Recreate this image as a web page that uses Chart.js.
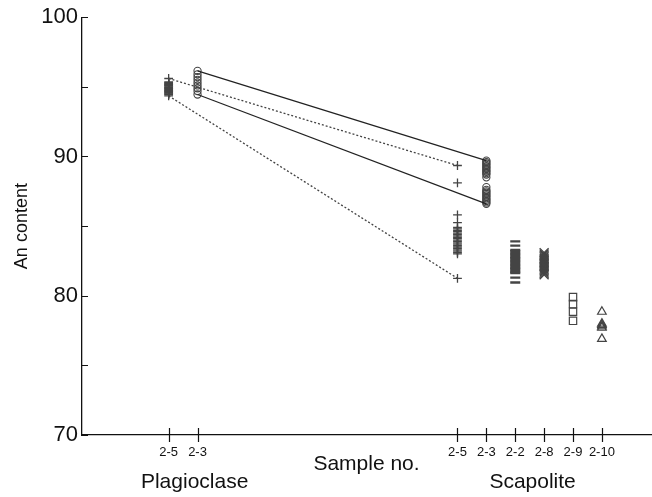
<!DOCTYPE html>
<html><head><meta charset="utf-8">
<script src="https://cdn.jsdelivr.net/npm/chart.js@4"></script>
<style>html,body{margin:0;padding:0;background:#fff}#wrap{width:652px;height:497px}</style>
</head><body><div id="wrap"><canvas id="c" width="652" height="497"></canvas></div>
<script>
// ---- data ----
const sampleLabels = ['2-5','2-3','2-5','2-3','2-2','2-8','2-9','2-10'];
const samplePos    = [3, 4, 13, 14, 15, 16, 17, 18];
const groupLabels  = ['Plagioclase','Scapolite'];
const groupPos     = [3.9, 15.6];
const yTickLabels  = [70, 80, 90, 100];

const plag25 = [95.6,95.35,95.3,95.25,95.2,95.15,95.1,95.05,95.0,94.95,94.9,94.85,94.8,94.75,94.7,94.65,94.6,94.55,94.5,94.45,94.35];
const plag23 = [96.15,95.9,95.7,95.5,95.3,95.1,94.9,94.7,94.45];
const scap25 = [89.35,88.1,85.8,85.25,84.9,84.8,84.7,84.6,84.5,84.4,84.3,84.2,84.1,84.0,83.9,83.8,83.7,83.6,83.5,83.4,83.3,83.2,83.1,83.0,81.25];
const scap23 = [89.7,89.6,89.5,89.4,89.3,89.2,89.1,89.0,88.9,88.8,88.7,88.5,87.8,87.6,87.5,87.4,87.3,87.2,87.1,87.0,86.9,86.8,86.7,86.6];
const scap22 = [83.9,83.6,83.3,83.2,83.1,83.0,82.9,82.8,82.7,82.6,82.5,82.4,82.3,82.2,82.1,82.0,81.9,81.8,81.7,81.63,81.3,80.95];
const scap28 = [83.1,83.0,82.9,82.8,82.7,82.6,82.5,82.4,82.3,82.2,82.1,82.0,81.9,81.8,81.7,81.6,81.5];
const scap29 = [79.9,79.4,78.85,78.2];
const scap210 = [78.85,78.0,77.9,77.8,77.7,76.9];

// ---- build ----
const FONT = '"Liberation Sans", Arial, Helvetica, sans-serif';
Chart.defaults.font.family = FONT;
Chart.defaults.color = '#111';
const MK = '#444';
const pts = (arr, i) => arr.map(v => ({x: samplePos[i], y: v}));
const mmax = a => Math.max(...a), mmin = a => Math.min(...a);

function markerSet(arr, i, style, r, bw) {
  return {data: pts(arr, i), pointStyle: style, pointRadius: r, pointBorderWidth: bw,
    borderColor: MK, pointBorderColor: MK, pointBackgroundColor: 'rgba(0,0,0,0)', showLine: false};
}
function lineSet(x0, y0, x1, y1, dashed) {
  return {data: [{x: x0, y: y0}, {x: x1, y: y1}], showLine: true, pointRadius: 0,
    borderColor: dashed ? '#444' : '#222', borderWidth: dashed ? 1.3 : 1.2,
    borderDash: dashed ? [2, 2] : [], fill: false};
}

const tickPlugin = {
  id: 'ticksAndGroups',
  afterDraw(chart) {
    const {ctx, scales: {x, y}} = chart;
    ctx.save();
    ctx.strokeStyle = '#111'; ctx.lineWidth = 1.2;
    ctx.beginPath();
    x.ticks.forEach(t => { const px = Math.round(x.getPixelForValue(t.value)) + 0.5; ctx.moveTo(px, y.bottom - 7); ctx.lineTo(px, y.bottom + 7); });
    y.ticks.forEach(t => { const py = Math.round(y.getPixelForValue(t.value)) + 0.5; ctx.moveTo(x.left, py); ctx.lineTo(x.left + 6, py); });
    ctx.stroke();
    ctx.fillStyle = '#111';
    ctx.font = '21px ' + FONT;
    ctx.textAlign = 'center'; ctx.textBaseline = 'middle';
    groupLabels.forEach((g, i) => ctx.fillText(g, x.getPixelForValue(groupPos[i]), x.bottom - 15));
    ctx.restore();
  }
};

new Chart(document.getElementById('c'), {
  type: 'scatter',
  data: {datasets: [
    lineSet(samplePos[1], mmax(plag23), samplePos[3], mmax(scap23), false),
    lineSet(samplePos[1], mmin(plag23), samplePos[3], mmin(scap23), false),
    lineSet(samplePos[0], mmax(plag25), samplePos[2], mmax(scap25), true),
    lineSet(samplePos[0], mmin(plag25), samplePos[2], mmin(scap25), true),
    markerSet(plag25, 0, 'cross', 4.4, 1.3),
    markerSet(plag23, 1, 'circle', 3.6, 1.1),
    markerSet(scap25, 2, 'cross', 4.4, 1.3),
    markerSet(scap23, 3, 'circle', 3.6, 1.1),
    markerSet(scap22, 4, 'line', 5, 2.3),
    markerSet(scap28, 5, 'crossRot', 6.3, 1.3),
    markerSet(scap29, 6, 'rect', 5.2, 1.2),
    markerSet(scap210, 7, 'triangle', 5, 1.2)
  ]},
  options: {
    responsive: false, animation: false, devicePixelRatio: 1,
    layout: {autoPadding: false, padding: {top: 15, right: 1, left: 0, bottom: 0}},
    plugins: {legend: {display: false}, tooltip: {enabled: false}},
    scales: {
      x: {
        type: 'linear', min: 0, max: 19.7,
        afterBuildTicks: s => { s.ticks = samplePos.map(v => ({value: v})); },
        afterFit: s => { s.height = 62; },
        ticks: {autoSkip: false, maxRotation: 0, padding: 10, font: {size: 13}, color: '#111',
          callback: (v, i) => sampleLabels[i]},
        grid: {display: false, drawTicks: false},
        border: {display: true, color: '#111', width: 1.3},
        title: {display: true, text: 'Sample no.', font: {size: 21}, color: '#111', padding: {top: 0, bottom: 20}}
      },
      y: {
        type: 'linear', min: 70, max: 100,
        afterBuildTicks: s => { s.ticks = [70, 75, 80, 85, 90, 95, 100].map(v => ({value: v})); },
        afterFit: s => { s.width = 82; },
        ticks: {padding: 4, font: {size: 22}, color: '#111',
          callback: v => yTickLabels.includes(v) ? String(v) : ''},
        grid: {display: false, drawTicks: false},
        border: {display: true, color: '#111', width: 1.3},
        title: {display: true, text: 'An content', font: {size: 18}, color: '#111', padding: {top: 11, bottom: 0}}
      }
    }
  },
  plugins: [tickPlugin]
});
</script></body></html>
